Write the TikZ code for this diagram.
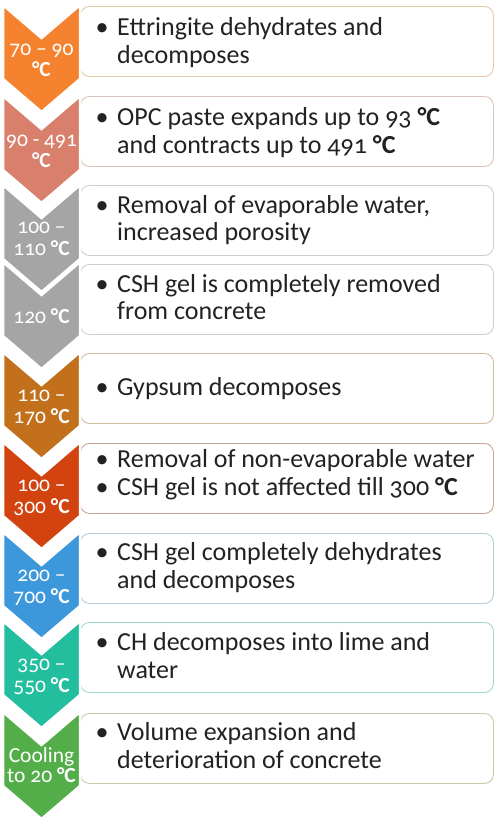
\documentclass[tikz,border=0pt]{standalone}
\usepackage{fontspec}
\setmainfont{Carlito}[Numbers=OldStyle]
\definecolor{c1}{HTML}{F5822F}
\definecolor{c2}{HTML}{D8806C}
\definecolor{c3}{HTML}{A5A5A5}
\definecolor{c5}{HTML}{C3701C}
\definecolor{c6}{HTML}{D3430F}
\definecolor{c7}{HTML}{3C97DB}
\definecolor{c8}{HTML}{23BE9E}
\definecolor{c9}{HTML}{53AE4A}
\definecolor{b1}{HTML}{E5C9A5}
\definecolor{b2}{HTML}{D9C3BC}
\definecolor{b3}{HTML}{CFCFCF}
\definecolor{b5}{HTML}{D0BC9C}
\definecolor{b6}{HTML}{C9A296}
\definecolor{b7}{HTML}{B5CCD9}
\definecolor{b8}{HTML}{9FD8CC}
\definecolor{b9}{HTML}{C7CBA8}
\definecolor{ink}{HTML}{222222}
\newcommand\degC{\textbf{°C}}
\newcommand\mychev[2]{%
  \filldraw[fill=#2, draw=white, line width=2.5bp, line join=miter]
    (3,#1) -- (41.5,#1+33) -- (80,#1) -- (80,#1+74) -- (41.5,#1+107) -- (3,#1+74) -- cycle;}
\tikzset{
  box/.style={draw=#1, line width=0.9bp, rounded corners=9bp, fill=white,
    minimum width=413bp, minimum height=70bp, anchor=north west, inner sep=0pt},
  txt/.style={anchor=base west, inner sep=0pt, text=ink,
    font=\fontsize{26bp}{28bp}\selectfont},
  bul/.style={anchor=base, inner sep=0pt, text=ink,
    font=\fontsize{26bp}{28bp}\selectfont},
  ctxt/.style={anchor=base, inner sep=0pt, text=white,
    font=\fontsize{21.5bp}{24bp}\selectfont},
}
\begin{document}
\begin{tikzpicture}[x=1bp, y=-1bp]
\useasboundingbox (0,0) rectangle (498,825);
% boxes
\node[box=b1] (box1) at (80,6) {};
\node[box=b2] (box2) at (80,96) {};
\node[box=b3] (box3) at (80,185) {};
\node[box=b3] (box4) at (80,264) {};
\node[box=b5] (box5) at (80,353) {};
\node[box=b6] (box6) at (80,443) {};
\node[box=b7] (box7) at (80,533) {};
\node[box=b8] (box8) at (80,622) {};
\node[box=b9] (box9) at (80,713) {};
% chevrons
\mychev{5}{c1}
\mychev{96}{c2}
\mychev{185}{c3}
\mychev{262}{c3}
\mychev{352}{c5}
\mychev{442}{c6}
\mychev{532}{c7}
\mychev{621}{c8}
\mychev{712}{c9}
% chevron labels
\node[ctxt] (l1a) at (41.5,55) {70 – 90};
\node[ctxt] (l1b) at (41.5,76) {\degC};
\node[ctxt] (l2a) at (41.5,146) {90 - 491};
\node[ctxt] (l2b) at (41.5,167) {\degC};
\node[ctxt] (l3a) at (41.5,233) {100 –};
\node[ctxt] (l3b) at (41.5,255) {110 \degC};
\node[ctxt] (l4a) at (41.5,323) {120 \degC};
\node[ctxt] (l5a) at (41.5,401) {110 –};
\node[ctxt] (l5b) at (41.5,423) {170 \degC};
\node[ctxt] (l6a) at (41.5,491) {100 –};
\node[ctxt] (l6b) at (41.5,513) {300 \degC};
\node[ctxt] (l7a) at (41.5,581) {200 –};
\node[ctxt] (l7b) at (41.5,603) {700 \degC};
\node[ctxt] (l8a) at (41.5,670) {350 –};
\node[ctxt] (l8b) at (41.5,692) {550 \degC};
\node[ctxt] (l9a) at (41.5,762) {Cooling};
\node[ctxt] (l9b) at (41.5,782) {to 20 \degC};
% box texts
\node[bul] (p1) at (102,35) {•};
\node[txt] (t1a) at (117,35) {Ettringite dehydrates and};
\node[txt] (t1b) at (117,63) {decomposes};
\node[bul] (p2) at (102,125) {•};
\node[txt] (t2a) at (117,125) {OPC paste expands up to 93 \degC};
\node[txt] (t2b) at (117,153) {and contracts up to 491 \degC};
\node[bul] (p3) at (102,213) {•};
\node[txt] (t3a) at (117,213) {Removal of evaporable water,};
\node[txt] (t3b) at (117,240) {increased porosity};
\node[bul] (p4) at (102,292) {•};
\node[txt] (t4a) at (117,292) {CSH gel is completely removed};
\node[txt] (t4b) at (117,319) {from concrete};
\node[bul] (p5) at (102,395) {•};
\node[txt] (t5a) at (117,395) {Gypsum decomposes};
\node[bul] (p6a) at (102,467) {•};
\node[txt] (t6a) at (117,467) {Removal of non-evaporable water};
\node[bul] (p6b) at (102,495) {•};
\node[txt] (t6b) at (117,495) {CSH gel is not affected till 300 \degC};
\node[bul] (p7) at (102,560) {•};
\node[txt] (t7a) at (117,560) {CSH gel completely dehydrates};
\node[txt] (t7b) at (117,588) {and decomposes};
\node[bul] (p8) at (102,650) {•};
\node[txt] (t8a) at (117,650) {CH decomposes into lime and};
\node[txt] (t8b) at (117,678) {water};
\node[bul] (p9) at (102,740) {•};
\node[txt] (t9a) at (117,740) {Volume expansion and};
\node[txt] (t9b) at (117,768) {deterioration of concrete};
\end{tikzpicture}
\end{document}
